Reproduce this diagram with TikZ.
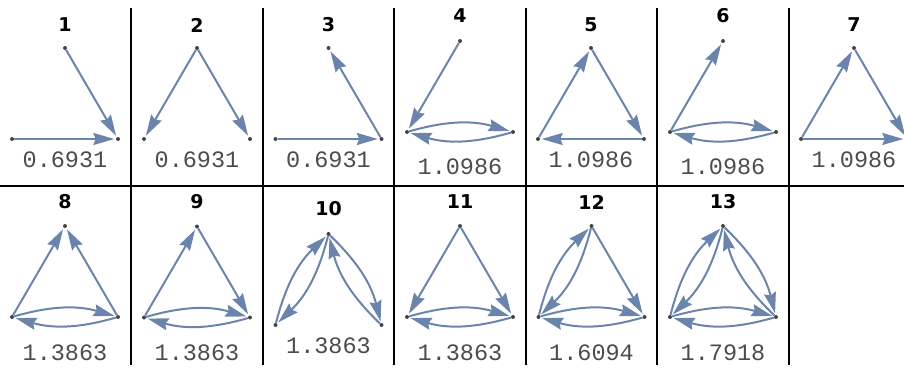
\documentclass[tikz,border=0pt]{standalone}
\usepackage{fontspec}
\setmainfont{DejaVu Sans}
\newfontfamily\numfont{Liberation Mono}
\usetikzlibrary{arrows.meta}
\definecolor{edgec}{RGB}{107,132,171}
\definecolor{vtxc}{RGB}{68,68,68}
\tikzset{
  vtx/.style={circle,fill=vtxc,inner sep=0pt,minimum size=4pt},
  edge/.style={edgec,line width=2pt,shorten >=1.5pt,-{Stealth[length=21pt,width=12pt,inset=2.5pt]}},
  pair/.style={edge,bend left=16},
  ttl/.style={font=\fontsize{19}{19}\selectfont\bfseries},
  val/.style={font=\numfont\fontsize{23.5}{23.5}\selectfont,text=black!70},
  grid/.style={line width=2pt}
}
\begin{document}
\begin{tikzpicture}[x=1pt,y=-1pt]
  \useasboundingbox (0,0) rectangle (904,367);
  % separators
  \foreach \x in {131,262.5,394,525.5,657,788.5} \draw[grid] (\x,8) -- (\x,365);
  \draw[grid] (0,186) -- (904,186);
  % cells: number/centre x/top vertex y/title y/value y/value
  \foreach \i/\cx/\ty/\ly/\vy/\v in {1/65/48/25/160/0.6931,2/197/48/25/160/0.6931,3/328.5/48/25/160/0.6931,
    4/460/41/15.5/167/1.0986,5/591/48/25/160/1.0986,6/723/41/15.5/167/1.0986,7/854/48/25/160/1.0986,
    8/65/226/201.5/353/1.3863,9/197/226.5/201.5/353/1.3863,10/328.5/234/208.5/345.5/1.3863,
    11/460/226/202/353/1.3863,12/591.5/226/202/353/1.6094,13/723/226/202/353/1.7918} {
    \node[vtx] (c\i-t) at (\cx,\ty) {};
    \node[vtx] (c\i-l) at (\cx-53,\ty+91) {};
    \node[vtx] (c\i-r) at (\cx+53,\ty+91) {};
    \node[ttl] (t\i) at (\cx,\ly) {\i};
    \node[val] (v\i) at (\cx,\vy) {\v};
  }
  % single edges
  \foreach \i/\a/\b in {1/t/r,1/l/r,2/t/l,2/t/r,3/r/t,3/l/r,4/t/l,5/l/t,5/t/r,5/r/l,6/l/t,
    7/l/t,7/t/r,7/l/r,8/l/t,8/r/t,9/l/t,9/t/r,11/t/l,11/t/r,12/t/r}
    \draw[edge] (c\i-\a) -- (c\i-\b);
  % edges both ways
  \foreach \i/\a/\b in {4/l/r,6/l/r,8/l/r,9/l/r,10/l/t,10/t/r,11/l/r,12/l/t,12/l/r,13/l/t,13/t/r,13/l/r} {
    \draw[pair] (c\i-\a) to (c\i-\b);
    \draw[pair] (c\i-\b) to (c\i-\a);
  }
\end{tikzpicture}
\end{document}
